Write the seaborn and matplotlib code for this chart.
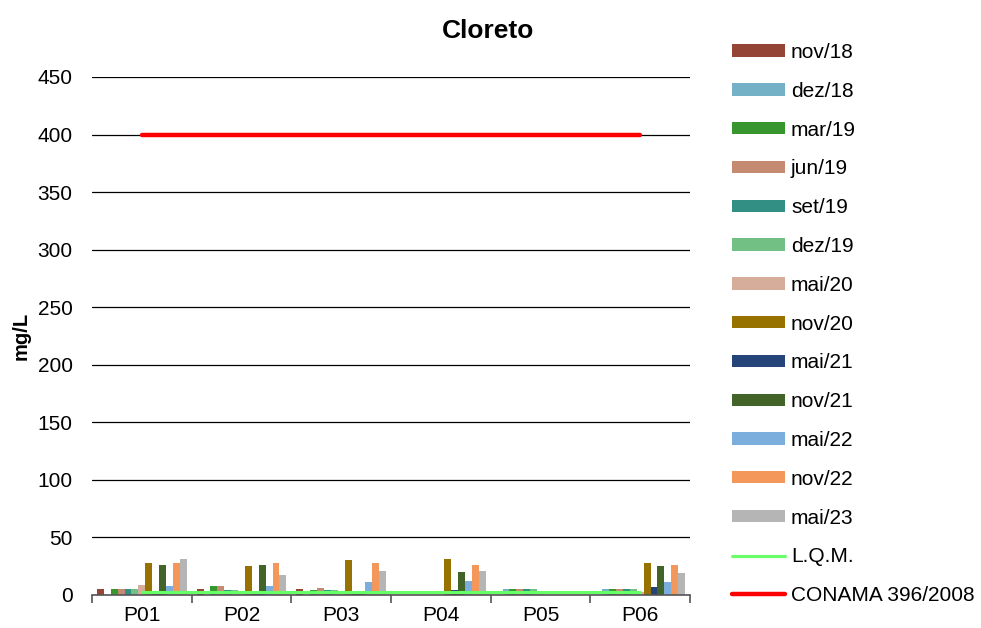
import numpy as np
import pandas as pd
import matplotlib
matplotlib.use("Agg")
import matplotlib.pyplot as plt
import seaborn as sns

# Sampling points and campaigns
pontos = ["P01", "P02", "P03", "P04", "P05", "P06"]
campanhas = ["nov/18", "dez/18", "mar/19", "jun/19", "set/19", "dez/19",
             "mai/20", "nov/20", "mai/21", "nov/21", "mai/22", "nov/22", "mai/23"]

# Chloride (mg/L) per campaign, one value per point (NaN = no sample)
nov_18 = [5, 5, 5, np.nan, np.nan, np.nan]
dez_18 = [np.nan, np.nan, np.nan, np.nan, 5, 5]
mar_19 = [5, 8, 4, np.nan, 5, 5]
jun_19 = [5, 8, 6, np.nan, 5, 5]
set_19 = [5, 4, 4, np.nan, 5, 5]
dez_19 = [5, 4, 4, np.nan, 5, 5]
mai_20 = [9, 3, 2, np.nan, 2, 3]
nov_20 = [28, 25, 30, 31, np.nan, 28]
mai_21 = [2, 2, 2, 4, np.nan, 7]
nov_21 = [26, 26, 2, 20, np.nan, 25]
mai_22 = [8, 8, 11, 12, np.nan, 11]
nov_22 = [28, 28, 28, 26, np.nan, 26]
mai_23 = [31, 17, 21, 21, np.nan, 19]

# Reference lines
lqm = [2.5, 2.5, 2.5, 2.5, 2.5, 2.5]
conama = [400, 400, 400, 400, 400, 400]

series = [nov_18, dez_18, mar_19, jun_19, set_19, dez_19, mai_20,
          nov_20, mai_21, nov_21, mai_22, nov_22, mai_23]

cores = ["#954535", "#75B1C6", "#38962F", "#C48B72", "#318F84", "#72C084",
         "#D6AD9A", "#977200", "#254479", "#426428", "#7CAEDD", "#F3975B",
         "#B5B5B5"]

rows = []
for camp, vals in zip(campanhas, series):
    for p, v in zip(pontos, vals):
        rows.append({"Ponto": p, "Campanha": camp, "valor": v})
df = pd.DataFrame(rows)

sns.set_theme(style="white")
plt.rcParams["font.family"] = ["Liberation Sans", "DejaVu Sans"]
plt.rcParams["text.color"] = "black"
plt.rcParams["axes.labelcolor"] = "black"

fig = plt.figure(figsize=(9.81, 6.28), dpi=100)
ax = fig.add_axes([92 / 981, 1 - 595 / 628, (690 - 92) / 981, (595 - 77) / 628])

sns.barplot(data=df, x="Ponto", y="valor", hue="Campanha", order=pontos,
            hue_order=campanhas, palette=cores, width=0.9, errorbar=None,
            saturation=1, linewidth=0, ax=ax, zorder=3)

pos = np.arange(len(pontos))
sns.lineplot(x=pos, y=lqm, color="#66FF66", linewidth=2.2, ax=ax,
             label="L.Q.M.", zorder=4)
sns.lineplot(x=pos, y=conama, color="#FF0000", linewidth=3.2, ax=ax,
             label="CONAMA 396/2008", zorder=4)

ax.set_xlim(-0.5, len(pontos) - 0.5)
ax.set_ylim(0, 450)
ax.set_yticks(np.arange(0, 451, 50))
ax.yaxis.grid(True, color="black", linewidth=0.9, zorder=0)
ax.set_axisbelow(True)

for s in ["top", "right", "left"]:
    ax.spines[s].set_visible(False)
ax.spines["bottom"].set_color("#555555")
ax.spines["bottom"].set_linewidth(1.2)
ax.spines["bottom"].set_zorder(5)

ax.set_xticks(pos)
ax.set_xticklabels(pontos)
ax.set_xticks(np.arange(-0.5, len(pontos), 1), minor=True)
ax.tick_params(axis="x", which="major", length=0, labelsize=15, pad=8,
               labelcolor="black")
ax.tick_params(axis="x", which="minor", length=6, width=1.2, color="#555555",
               bottom=True)
ax.tick_params(axis="y", length=0, labelsize=15, pad=14, labelcolor="black")

ax.set_xlabel("")
ax.set_ylabel("mg/L", fontsize=14.5, fontweight="bold", labelpad=5)

fig.text(0.498, 0.950, "Cloreto", ha="center", va="center",
         fontsize=19, fontweight="bold")

handles, labels = ax.get_legend_handles_labels()
leg = ax.legend(handles, labels, loc="upper left",
                bbox_to_anchor=(732 / 981, 1 - 43 / 628),
                bbox_transform=fig.transFigure, frameon=False, fontsize=15,
                handlelength=2.55, handleheight=0.53, handletextpad=0.28,
                labelspacing=0.95, borderaxespad=0, borderpad=0)
for t in leg.get_texts():
    t.set_color("black")

fig.savefig("out.png", dpi=100)
